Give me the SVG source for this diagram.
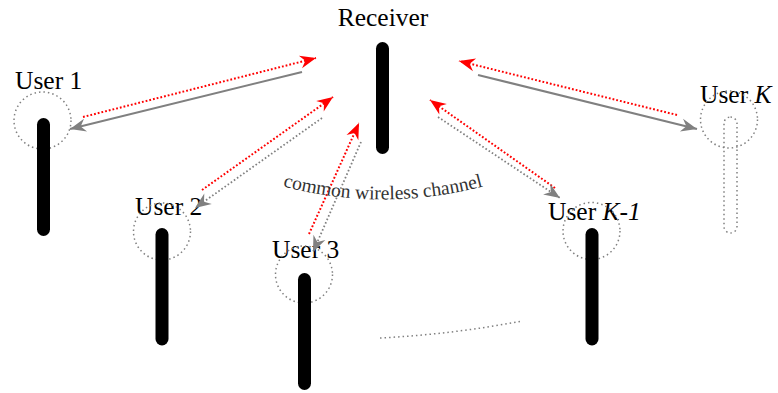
<svg xmlns="http://www.w3.org/2000/svg" width="778" height="393" viewBox="0 0 778 393">
<style>
.lbl{font-family:"Liberation Serif","DejaVu Serif","Times New Roman",serif;font-size:25.5px;fill:#000}
.ant{stroke:#000;stroke-width:13;stroke-linecap:round;fill:none}
.ring{fill:none;stroke:#808080;stroke-width:1.5;stroke-dasharray:1.5 3}
.red{fill:none;stroke:#ff0000;stroke-width:2;stroke-dasharray:1.8 2}
.gs{fill:none;stroke:#808080;stroke-width:2}
.gd{fill:none;stroke:#808080;stroke-width:1.8;stroke-dasharray:1.6 2.2}
</style>
<defs>
<marker id="ar" markerUnits="userSpaceOnUse" markerWidth="20" markerHeight="16" viewBox="-17 -8 20 16" refX="0" refY="0" orient="auto">
<path d="M0,0 L-16,-6.5 L-11,0 L-16,6.5 Z" fill="#ff0000"/>
</marker>
<marker id="ag" markerUnits="userSpaceOnUse" markerWidth="20" markerHeight="16" viewBox="-17 -8 20 16" refX="0" refY="0" orient="auto">
<path d="M0,0 L-16,-6.5 L-11,0 L-16,6.5 Z" fill="#808080"/>
</marker>
<path id="arcp" d="M 278 185 A 390 390 0 0 0 488 185"/>
</defs>

<g id="receiver">
<text class="lbl" x="383" y="26" text-anchor="middle">Receiver</text>
<line class="ant" x1="382.5" y1="48.5" x2="382.5" y2="147.5"/>
</g>

<g id="user1">
<text class="lbl" x="15" y="89">User 1</text>
<circle class="ring" cx="42.5" cy="120.5" r="28.5"/>
<line class="ant" x1="43.5" y1="124.5" x2="43.5" y2="229.5"/>
</g>

<g id="user2">
<text class="lbl" x="135" y="215">User 2</text>
<circle class="ring" cx="162" cy="231.5" r="28.5"/>
<line class="ant" x1="162" y1="234.5" x2="162" y2="339"/>
</g>

<g id="user3">
<text class="lbl" x="272" y="258">User 3</text>
<circle class="ring" cx="304" cy="274.5" r="28.5"/>
<line class="ant" x1="304.5" y1="279.5" x2="304.5" y2="383.5"/>
</g>

<g id="userK1">
<text class="lbl" x="548" y="220">User <tspan font-style="italic">K-1</tspan></text>
<circle class="ring" cx="591.5" cy="231" r="28.5"/>
<line class="ant" x1="592" y1="234.5" x2="592" y2="339"/>
</g>

<g id="userK">
<text class="lbl" x="700" y="103">User <tspan font-style="italic">K</tspan></text>
<circle class="ring" cx="729" cy="119.5" r="28.5"/>
<rect x="724" y="117" width="13" height="116" rx="6.5" ry="6.5" class="ring"/>
</g>

<g id="connectors">
<line class="red" x1="83" y1="117" x2="316" y2="58" marker-end="url(#ar)"/>
<line class="gs" x1="302" y1="72" x2="70" y2="129" marker-end="url(#ag)"/>

<line class="red" x1="202" y1="190" x2="333" y2="97" marker-end="url(#ar)"/>
<line class="gd" x1="322" y1="118" x2="195" y2="208" marker-end="url(#ag)"/>

<line class="red" x1="309" y1="234" x2="359" y2="123" marker-end="url(#ar)"/>
<line class="gd" x1="361" y1="142" x2="313" y2="252" marker-end="url(#ag)"/>

<line class="red" x1="555" y1="188" x2="430" y2="100" marker-end="url(#ar)"/>
<line class="gd" x1="438" y1="117" x2="560" y2="198" marker-end="url(#ag)"/>

<line class="red" x1="677" y1="115" x2="459" y2="61" marker-end="url(#ar)"/>
<line class="gs" x1="478" y1="75" x2="697" y2="129" marker-end="url(#ag)"/>
</g>

<g id="channel">
<text font-family="'Liberation Serif','DejaVu Serif','Times New Roman',serif" font-size="19.5" fill="#333"><textPath href="#arcp" startOffset="50%" text-anchor="middle">common wireless channel</textPath></text>
<path d="M 380 338 Q 455 334 522 321" fill="none" stroke="#808080" stroke-width="1.5" stroke-dasharray="1.5 3"/>
</g>
</svg>
